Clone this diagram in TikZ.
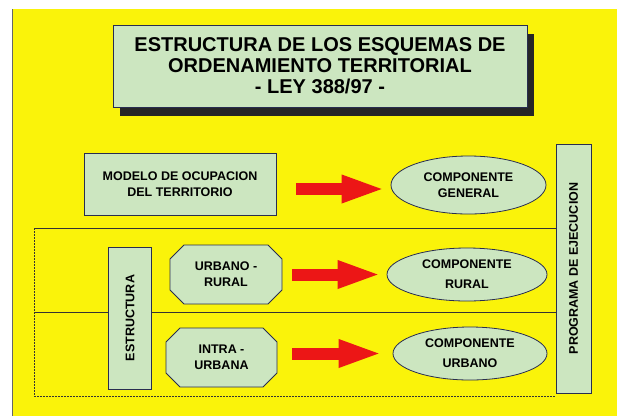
\documentclass[tikz,border=0pt]{standalone}
\usepackage{fontspec}
\setmainfont{Liberation Sans}
\usetikzlibrary{shapes.geometric,shapes.misc,shadows,arrows.meta,backgrounds}
\definecolor{bgyellow}{RGB}{250,243,10}
\definecolor{boxgreen}{RGB}{204,230,192}
\definecolor{edgeblue}{RGB}{40,45,80}
\definecolor{arrowred}{RGB}{236,22,22}
\begin{document}
\begin{tikzpicture}[x=1pt, y=-1pt,
  box/.style = {draw=edgeblue, fill=boxgreen, line width=0.8pt, inner sep=0pt,
    align=center, font=\bfseries\fontsize{12.5}{16}\selectfont},
  comp/.style = {box, ellipse},
  octo/.style = {box, chamfered rectangle, chamfered rectangle xsep=7pt, chamfered rectangle ysep=7pt},
  bigarrow/.style = {arrowred, line width=12pt, -{Triangle[length=44pt, width=25pt]}},
  frameline/.style = {black!80, line width=0.6pt}]
\useasboundingbox (0,0) rectangle (617,416);

% title
\node[box, minimum width=414pt, minimum height=82pt, font=\bfseries\fontsize{20}{21}\selectfont,
  drop shadow={shadow xshift=7pt, shadow yshift=-9pt, fill=black!85, opacity=1}]
  (titulo) at (320,66) {ESTRUCTURA DE LOS ESQUEMAS DE\\ORDENAMIENTO TERRITORIAL\\- LEY 388/97 -};

% left column
\node[box, minimum width=192pt, minimum height=62pt] (modelo) at (180,184) {MODELO DE OCUPACION\\DEL TERRITORIO};
\node[box, rotate=90, minimum width=142pt, minimum height=43pt] (estructura) at (130,318) {ESTRUCTURA};
\node[octo, minimum width=112pt, minimum height=59pt] (urbrur) at (226,274.5) {URBANO -\\RURAL};
\node[octo, minimum width=111pt, minimum height=59pt] (intra) at (221.5,357.5) {INTRA -\\URBANA};

% components
\node[comp, minimum width=155pt, minimum height=58pt] (general) at (468.5,185) {COMPONENTE\\GENERAL};
\node[comp, minimum width=160pt, minimum height=53pt, font=\bfseries\fontsize{12.5}{20}\selectfont]
  (rural) at (467,274.5) {COMPONENTE\\RURAL};
\node[comp, minimum width=154pt, minimum height=53pt, font=\bfseries\fontsize{12.5}{20}\selectfont]
  (urbano) at (470,353.5) {COMPONENTE\\URBANO};

\node[box, rotate=90, minimum width=249pt, minimum height=35pt] (programa) at (573.5,268.5) {PROGRAMA DE EJECUCION};

% arrows
\draw[bigarrow, shorten <=20pt, shorten >=5pt] ([yshift=-5pt]modelo.east) -- ([yshift=-5pt]modelo.east -| general.west);
\draw[bigarrow, shorten <=10pt, shorten >=5pt] (urbrur.east |- rural.west) -- (rural.west);
\draw[bigarrow, shorten <=15pt, shorten >=10pt] (intra.east |- urbano.west) -- (urbano.west);

\begin{scope}[on background layer]
  \fill[white] (0,0) rectangle (617,416);
  \fill[bgyellow] (12,9) rectangle (617,416);
  \draw[black!60, line width=1pt] (12,9) -- (12,416);
  \coordinate (ftl) at (34,228);
  \coordinate (fml) at (34,312);
  \coordinate (fbl) at (34,396);
  \draw[frameline] (ftl) -- (ftl -| programa.north);
  \draw[frameline] (fml) -- (fml -| programa.north);
  \draw[frameline, dashed, dash pattern=on 2pt off 1pt] (ftl) -- (fbl) -- (fbl -| programa.north);
\end{scope}
\end{tikzpicture}
\end{document}
